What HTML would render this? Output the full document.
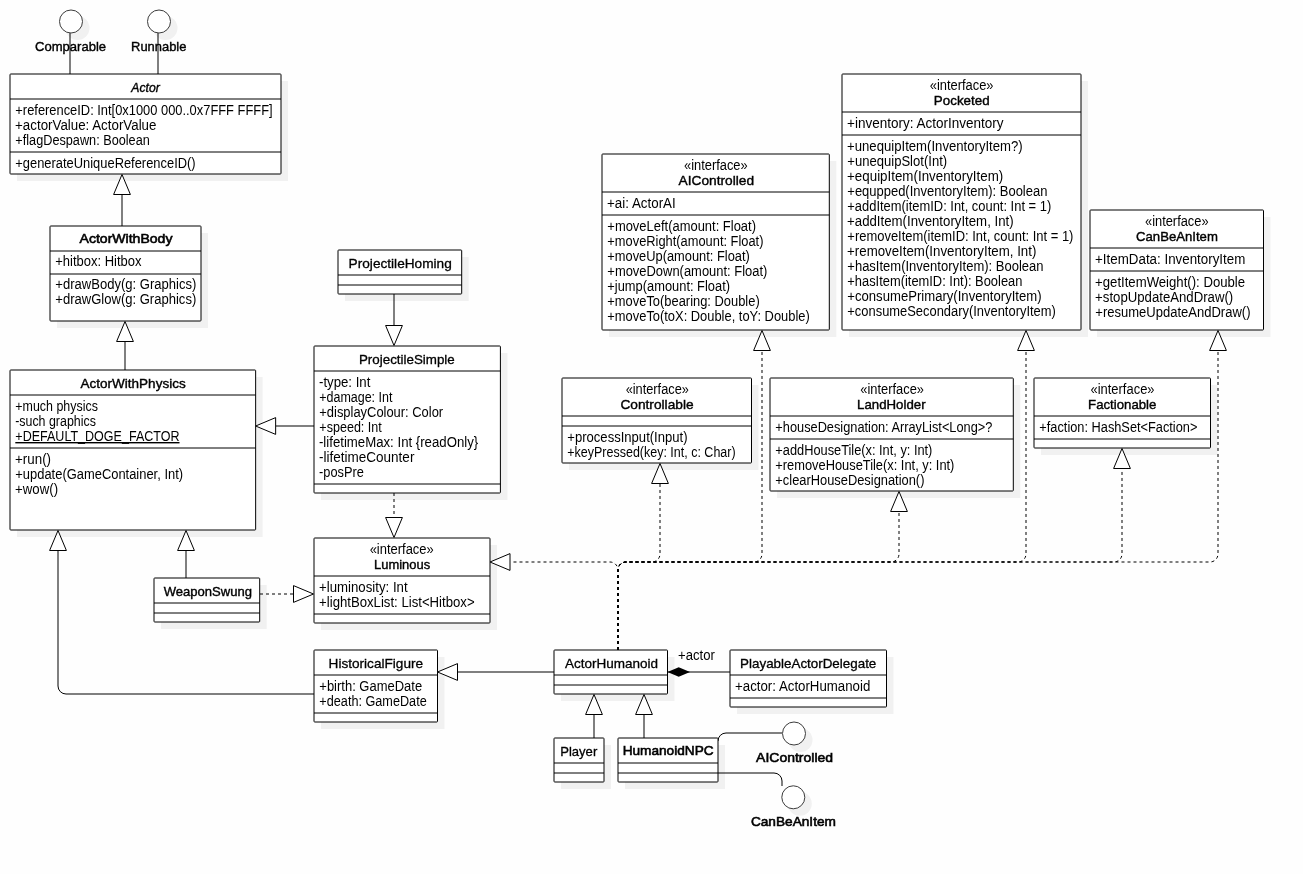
<!DOCTYPE html>
<html lang="en">
<head>
<meta charset="utf-8">
<title>Actor class diagram</title>
<style>
html,body{margin:0;padding:0;background:#fefefe;}
body{width:1303px;height:874px;overflow:hidden;}
svg{display:block;will-change:transform;}
svg text{font-family:"Liberation Sans",sans-serif;font-size:14px;fill:#000;stroke:none;}
svg text.md{stroke:#000;stroke-width:0.3px;font-size:13.5px;}
svg text.sb{stroke:#000;stroke-width:0.4px;font-size:13.5px;}
svg text.bd{stroke:#000;stroke-width:0.6px;font-size:13.5px;}
</style>
</head>
<body>
<svg width="1303" height="874" viewBox="0 0 1303 874">
<rect width="1303" height="874" fill="#fefefe"/>
<g id="shadows" fill="#f1f1f1">
<circle cx="77.5" cy="28" r="12"/>
<circle cx="165.5" cy="28" r="12"/>
<circle cx="800.5" cy="740" r="12"/>
<circle cx="799.8" cy="803.8" r="12"/>
<rect x="17" y="81" width="271" height="100"/>
<rect x="57" y="233" width="151" height="95"/>
<rect x="17" y="377" width="245.65" height="160"/>
<rect x="161" y="585" width="105.7" height="44"/>
<rect x="345" y="257" width="123.7" height="44"/>
<rect x="321" y="353" width="186.4" height="147"/>
<rect x="321" y="545" width="176" height="85"/>
<rect x="321" y="657" width="123.5" height="72"/>
<rect x="561" y="657" width="113.5" height="44"/>
<rect x="561" y="745" width="50" height="44"/>
<rect x="625" y="745" width="100" height="44"/>
<rect x="737" y="657" width="156.5" height="57"/>
<rect x="609" y="161" width="227.3" height="176"/>
<rect x="849" y="81" width="239" height="256"/>
<rect x="1097" y="217" width="173.5" height="120"/>
<rect x="569" y="385" width="189.5" height="85"/>
<rect x="777" y="385" width="243.3" height="113"/>
<rect x="1041" y="385" width="176.5" height="70"/>
</g>
<g id="edges" fill="none" stroke="#000" stroke-width="1">
<path d="M70 33V74"/>
<path d="M158 33V74"/>
<path d="M122 194V226"/>
<path d="M125 341V370"/>
<path d="M276 426H314"/>
<path d="M394 294V326"/>
<path d="M186 550V578"/>
<path d="M58 550V686A8 8 0 0 0 66 694H314"/>
<path d="M458 672H554"/>
<path d="M667 672H730"/>
<path d="M594 714V738"/>
<path d="M644 714V738"/>
<path d="M718 741A8 8 0 0 1 726 733H782"/>
<path d="M718 773H774A8 8 0 0 1 782 781V786"/>
<path d="M394 493V518" stroke-dasharray="3 3"/>
<path d="M260 594H294" stroke-dasharray="3 3"/>
<path d="M618 650V570A8 8 0 0 0 610 562H511" stroke-dasharray="3 3"/>
<path d="M618 650V570A8 8 0 0 1 626 562H652A8 8 0 0 0 660 554V484" stroke-dasharray="3 3"/>
<path d="M618 650V570A8 8 0 0 1 626 562H754A8 8 0 0 0 762 554V350" stroke-dasharray="3 3"/>
<path d="M618 650V570A8 8 0 0 1 626 562H891A8 8 0 0 0 899 554V512" stroke-dasharray="3 3"/>
<path d="M618 650V570A8 8 0 0 1 626 562H1018A8 8 0 0 0 1026 554V350" stroke-dasharray="3 3"/>
<path d="M618 650V570A8 8 0 0 1 626 562H1114A8 8 0 0 0 1122 554V468" stroke-dasharray="3 3"/>
<path d="M618 650V570A8 8 0 0 1 626 562H1210A8 8 0 0 0 1218 554V350" stroke-dasharray="3 3"/>
</g>
<g id="lollipops" fill="#fff" stroke="#3c3c3c" stroke-width="1">
<circle cx="71" cy="21.5" r="11.5"/>
<circle cx="159" cy="21.5" r="11.5"/>
<circle cx="794" cy="733.5" r="11.5"/>
<circle cx="793.3" cy="797.3" r="11.5"/>
</g>
<g id="lollipop-labels">
<text x="35.01" y="51" textLength="71.08" lengthAdjust="spacingAndGlyphs" class="sb">Comparable</text>
<text x="131.08" y="51" textLength="55.32" lengthAdjust="spacingAndGlyphs" class="sb">Runnable</text>
<text x="756.13" y="762" textLength="76.91" lengthAdjust="spacingAndGlyphs" class="bd">AIControlled</text>
<text x="750.91" y="826" textLength="85.01" lengthAdjust="spacingAndGlyphs" class="bd">CanBeAnItem</text>
</g>
<g id="classes" stroke="#000" stroke-width="1">
<rect x="10" y="74" width="271" height="100" rx="0.7" fill="#fff"/>
<path d="M10 99H281"/>
<path d="M10 152H281"/>
<rect x="50" y="226" width="151" height="95" rx="0.7" fill="#fff"/>
<path d="M50 251H201"/>
<path d="M50 274H201"/>
<rect x="10" y="370" width="245.65" height="160" rx="0.7" fill="#fff"/>
<path d="M10 395H255.65"/>
<path d="M10 448H255.65"/>
<rect x="154" y="578" width="105.7" height="44" rx="0.7" fill="#fff"/>
<path d="M154 603H259.7"/>
<path d="M154 613H259.7"/>
<rect x="338" y="250" width="123.7" height="44" rx="0.7" fill="#fff"/>
<path d="M338 275H461.7"/>
<path d="M338 285H461.7"/>
<rect x="314" y="346" width="186.4" height="147" rx="0.7" fill="#fff"/>
<path d="M314 371H500.4"/>
<path d="M314 484H500.4"/>
<rect x="314" y="538" width="176" height="85" rx="0.7" fill="#fff"/>
<path d="M314 576H490"/>
<path d="M314 614H490"/>
<rect x="314" y="650" width="123.5" height="72" rx="0.7" fill="#fff"/>
<path d="M314 675H437.5"/>
<path d="M314 713H437.5"/>
<rect x="554" y="650" width="113.5" height="44" rx="0.7" fill="#fff"/>
<path d="M554 675H667.5"/>
<path d="M554 685H667.5"/>
<rect x="554" y="738" width="50" height="44" rx="0.7" fill="#fff"/>
<path d="M554 763H604"/>
<path d="M554 773H604"/>
<rect x="618" y="738" width="100" height="44" rx="0.7" fill="#fff"/>
<path d="M618 763H718"/>
<path d="M618 773H718"/>
<rect x="730" y="650" width="156.5" height="57" rx="0.7" fill="#fff"/>
<path d="M730 675H886.5"/>
<path d="M730 698H886.5"/>
<rect x="602" y="154" width="227.3" height="176" rx="0.7" fill="#fff"/>
<path d="M602 192H829.3"/>
<path d="M602 215H829.3"/>
<rect x="842" y="74" width="239" height="256" rx="0.7" fill="#fff"/>
<path d="M842 112H1081"/>
<path d="M842 135H1081"/>
<rect x="1090" y="210" width="173.5" height="120" rx="0.7" fill="#fff"/>
<path d="M1090 248H1263.5"/>
<path d="M1090 271H1263.5"/>
<rect x="562" y="378" width="189.5" height="85" rx="0.7" fill="#fff"/>
<path d="M562 416H751.5"/>
<path d="M562 426H751.5"/>
<rect x="770" y="378" width="243.3" height="113" rx="0.7" fill="#fff"/>
<path d="M770 416H1013.3"/>
<path d="M770 439H1013.3"/>
<rect x="1034" y="378" width="176.5" height="70" rx="0.7" fill="#fff"/>
<path d="M1034 416H1210.5"/>
<path d="M1034 439H1210.5"/>
</g>
<g id="labels">
<text x="131.34" y="92" textLength="28.43" lengthAdjust="spacingAndGlyphs" class="sb" font-style="italic">Actor</text>
<text x="15.35" y="115" textLength="257.25" lengthAdjust="spacingAndGlyphs">+referenceID: Int[0x1000 000..0x7FFF FFFF]</text>
<text x="15.08" y="130" textLength="141.35" lengthAdjust="spacingAndGlyphs">+actorValue: ActorValue</text>
<text x="15.36" y="145" textLength="134.45" lengthAdjust="spacingAndGlyphs">+flagDespawn: Boolean</text>
<text x="15.33" y="168" textLength="180.29" lengthAdjust="spacingAndGlyphs">+generateUniqueReferenceID()</text>
<text x="79.52" y="243" textLength="92.93" lengthAdjust="spacingAndGlyphs" class="bd">ActorWithBody</text>
<text x="55.30" y="266" textLength="86.18" lengthAdjust="spacingAndGlyphs">+hitbox: Hitbox</text>
<text x="55.30" y="289" textLength="141.05" lengthAdjust="spacingAndGlyphs">+drawBody(g: Graphics)</text>
<text x="55.30" y="304" textLength="140.95" lengthAdjust="spacingAndGlyphs">+drawGlow(g: Graphics)</text>
<text x="80.58" y="388" textLength="105.07" lengthAdjust="spacingAndGlyphs" class="sb">ActorWithPhysics</text>
<text x="15.33" y="411" textLength="82.51" lengthAdjust="spacingAndGlyphs">+much physics</text>
<text x="15.14" y="426" textLength="80.77" lengthAdjust="spacingAndGlyphs">-such graphics</text>
<text x="15.32" y="441" textLength="164.21" lengthAdjust="spacingAndGlyphs" text-decoration="underline">+DEFAULT_DOGE_FACTOR</text>
<text x="15.04" y="464" textLength="36.02" lengthAdjust="spacingAndGlyphs">+run()</text>
<text x="15.33" y="479" textLength="167.73" lengthAdjust="spacingAndGlyphs">+update(GameContainer, Int)</text>
<text x="15.08" y="494" textLength="42.97" lengthAdjust="spacingAndGlyphs">+wow()</text>
<text x="163.70" y="596" textLength="88.27" lengthAdjust="spacingAndGlyphs" class="sb">WeaponSwung</text>
<text x="348.64" y="268" textLength="103.12" lengthAdjust="spacingAndGlyphs" class="md">ProjectileHoming</text>
<text x="358.96" y="364" textLength="95.80" lengthAdjust="spacingAndGlyphs" class="md">ProjectileSimple</text>
<text x="318.99" y="387" textLength="51.39" lengthAdjust="spacingAndGlyphs">-type: Int</text>
<text x="319.21" y="402" textLength="73.23" lengthAdjust="spacingAndGlyphs">+damage: Int</text>
<text x="319.32" y="417" textLength="123.84" lengthAdjust="spacingAndGlyphs">+displayColour: Color</text>
<text x="319.37" y="432" textLength="62.44" lengthAdjust="spacingAndGlyphs">+speed: Int</text>
<text x="318.98" y="447" textLength="159.23" lengthAdjust="spacingAndGlyphs">-lifetimeMax: Int {readOnly}</text>
<text x="319.05" y="462" textLength="95.34" lengthAdjust="spacingAndGlyphs">-lifetimeCounter</text>
<text x="319.09" y="477" textLength="44.77" lengthAdjust="spacingAndGlyphs">-posPre</text>
<text x="369.65" y="554" textLength="64.11" lengthAdjust="spacingAndGlyphs">«interface»</text>
<text x="374.10" y="569" textLength="56.07" lengthAdjust="spacingAndGlyphs" class="sb">Luminous</text>
<text x="319.09" y="592" textLength="88.49" lengthAdjust="spacingAndGlyphs">+luminosity: Int</text>
<text x="319.10" y="607" textLength="155.48" lengthAdjust="spacingAndGlyphs">+lightBoxList: List&lt;Hitbox&gt;</text>
<text x="328.57" y="668" textLength="94.51" lengthAdjust="spacingAndGlyphs" class="md">HistoricalFigure</text>
<text x="319.31" y="691" textLength="102.81" lengthAdjust="spacingAndGlyphs">+birth: GameDate</text>
<text x="319.37" y="706" textLength="107.35" lengthAdjust="spacingAndGlyphs">+death: GameDate</text>
<text x="564.93" y="668" textLength="93.15" lengthAdjust="spacingAndGlyphs" class="md">ActorHumanoid</text>
<text x="560.20" y="756" textLength="37.04" lengthAdjust="spacingAndGlyphs" class="md">Player</text>
<text x="622.65" y="755" textLength="90.99" lengthAdjust="spacingAndGlyphs" class="bd">HumanoidNPC</text>
<text x="740.10" y="668" textLength="136.21" lengthAdjust="spacingAndGlyphs" class="md">PlayableActorDelegate</text>
<text x="735.09" y="691" textLength="135.20" lengthAdjust="spacingAndGlyphs">+actor: ActorHumanoid</text>
<text x="683.97" y="170" textLength="63.71" lengthAdjust="spacingAndGlyphs">«interface»</text>
<text x="678.60" y="185" textLength="75.49" lengthAdjust="spacingAndGlyphs" class="sb">AIControlled</text>
<text x="607.06" y="208" textLength="68.64" lengthAdjust="spacingAndGlyphs">+ai: ActorAI</text>
<text x="607.32" y="231" textLength="148.65" lengthAdjust="spacingAndGlyphs">+moveLeft(amount: Float)</text>
<text x="607.34" y="246" textLength="156.16" lengthAdjust="spacingAndGlyphs">+moveRight(amount: Float)</text>
<text x="607.34" y="261" textLength="142.47" lengthAdjust="spacingAndGlyphs">+moveUp(amount: Float)</text>
<text x="607.33" y="276" textLength="160.01" lengthAdjust="spacingAndGlyphs">+moveDown(amount: Float)</text>
<text x="607.33" y="291" textLength="122.70" lengthAdjust="spacingAndGlyphs">+jump(amount: Float)</text>
<text x="607.33" y="306" textLength="152.35" lengthAdjust="spacingAndGlyphs">+moveTo(bearing: Double)</text>
<text x="607.33" y="321" textLength="202.41" lengthAdjust="spacingAndGlyphs">+moveTo(toX: Double, toY: Double)</text>
<text x="929.73" y="90" textLength="63.84" lengthAdjust="spacingAndGlyphs">«interface»</text>
<text x="933.85" y="105" textLength="55.77" lengthAdjust="spacingAndGlyphs" class="sb">Pocketed</text>
<text x="847.05" y="128" textLength="156.52" lengthAdjust="spacingAndGlyphs">+inventory: ActorInventory</text>
<text x="847.10" y="151" textLength="175.58" lengthAdjust="spacingAndGlyphs">+unequipItem(InventoryItem?)</text>
<text x="847.30" y="166" textLength="99.84" lengthAdjust="spacingAndGlyphs">+unequipSlot(Int)</text>
<text x="847.08" y="181" textLength="156.15" lengthAdjust="spacingAndGlyphs">+equipItem(InventoryItem)</text>
<text x="847.32" y="196" textLength="200.07" lengthAdjust="spacingAndGlyphs">+equpped(InventoryItem): Boolean</text>
<text x="847.33" y="211" textLength="203.86" lengthAdjust="spacingAndGlyphs">+addItem(itemID: Int, count: Int = 1)</text>
<text x="847.09" y="226" textLength="166.52" lengthAdjust="spacingAndGlyphs">+addItem(InventoryItem, Int)</text>
<text x="847.33" y="241" textLength="226.11" lengthAdjust="spacingAndGlyphs">+removeItem(itemID: Int, count: Int = 1)</text>
<text x="847.09" y="256" textLength="189.26" lengthAdjust="spacingAndGlyphs">+removeItem(InventoryItem, Int)</text>
<text x="847.31" y="271" textLength="196.28" lengthAdjust="spacingAndGlyphs">+hasItem(InventoryItem): Boolean</text>
<text x="847.34" y="286" textLength="175.05" lengthAdjust="spacingAndGlyphs">+hasItem(itemID: Int): Boolean</text>
<text x="847.30" y="301" textLength="194.27" lengthAdjust="spacingAndGlyphs">+consumePrimary(InventoryItem)</text>
<text x="847.33" y="316" textLength="208.48" lengthAdjust="spacingAndGlyphs">+consumeSecondary(InventoryItem)</text>
<text x="1145.01" y="226" textLength="63.61" lengthAdjust="spacingAndGlyphs">«interface»</text>
<text x="1136.09" y="241" textLength="81.80" lengthAdjust="spacingAndGlyphs" class="sb">CanBeAnItem</text>
<text x="1095.08" y="264" textLength="150.20" lengthAdjust="spacingAndGlyphs">+ItemData: InventoryItem</text>
<text x="1095.11" y="287" textLength="149.94" lengthAdjust="spacingAndGlyphs">+getItemWeight(): Double</text>
<text x="1095.10" y="302" textLength="138.15" lengthAdjust="spacingAndGlyphs">+stopUpdateAndDraw()</text>
<text x="1095.31" y="317" textLength="155.19" lengthAdjust="spacingAndGlyphs">+resumeUpdateAndDraw()</text>
<text x="625.65" y="394" textLength="63.23" lengthAdjust="spacingAndGlyphs">«interface»</text>
<text x="620.43" y="409" textLength="73.13" lengthAdjust="spacingAndGlyphs" class="sb">Controllable</text>
<text x="567.30" y="442" textLength="120.25" lengthAdjust="spacingAndGlyphs">+processInput(Input)</text>
<text x="567.32" y="457" textLength="168.29" lengthAdjust="spacingAndGlyphs">+keyPressed(key: Int, c: Char)</text>
<text x="860.33" y="394" textLength="63.69" lengthAdjust="spacingAndGlyphs">«interface»</text>
<text x="857.10" y="409" textLength="68.48" lengthAdjust="spacingAndGlyphs" class="sb">LandHolder</text>
<text x="775.36" y="432" textLength="216.97" lengthAdjust="spacingAndGlyphs">+houseDesignation: ArrayList&lt;Long&gt;?</text>
<text x="775.36" y="455" textLength="157.03" lengthAdjust="spacingAndGlyphs">+addHouseTile(x: Int, y: Int)</text>
<text x="775.34" y="470" textLength="179.07" lengthAdjust="spacingAndGlyphs">+removeHouseTile(x: Int, y: Int)</text>
<text x="775.33" y="485" textLength="149.12" lengthAdjust="spacingAndGlyphs">+clearHouseDesignation()</text>
<text x="1090.52" y="394" textLength="64.01" lengthAdjust="spacingAndGlyphs">«interface»</text>
<text x="1088.11" y="409" textLength="68.25" lengthAdjust="spacingAndGlyphs" class="sb">Factionable</text>
<text x="1039.36" y="432" textLength="157.99" lengthAdjust="spacingAndGlyphs">+faction: HashSet&lt;Faction&gt;</text>
<text x="678.10" y="660" textLength="36.78" lengthAdjust="spacingAndGlyphs">+actor</text>
</g>
<g id="heads" fill="#fff" stroke="#000" stroke-width="1" stroke-linejoin="round">
<polygon points="122,174.5 113.6,194.5 130.4,194.5"/>
<polygon points="125,321.5 116.6,341.5 133.4,341.5"/>
<polygon points="255.65,426 275.65,417.6 275.65,434.4"/>
<polygon points="394,345.5 385.6,325.5 402.4,325.5"/>
<polygon points="186,530.5 177.6,550.5 194.4,550.5"/>
<polygon points="58,530.5 49.6,550.5 66.4,550.5"/>
<polygon points="437.5,672 457.5,663.6 457.5,680.4"/>
<polygon points="594,694.5 585.6,714.5 602.4,714.5"/>
<polygon points="644,694.5 635.6,714.5 652.4,714.5"/>
<polygon points="394,537.5 385.6,517.5 402.4,517.5"/>
<polygon points="313.5,594 293.5,585.6 293.5,602.4"/>
<polygon points="490,562 510,553.6 510,570.4"/>
<polygon points="660,463.5 651.6,483.5 668.4,483.5"/>
<polygon points="762,330.5 753.6,350.5 770.4,350.5"/>
<polygon points="899,491.5 890.6,511.5 907.4,511.5"/>
<polygon points="1026,330.5 1017.6,350.5 1034.4,350.5"/>
<polygon points="1122,448.5 1113.6,468.5 1130.4,468.5"/>
<polygon points="1218,330.5 1209.6,350.5 1226.4,350.5"/>
</g>
<polygon points="667.5,672 678.7,667.2 690,672 678.7,676.8" fill="#000"/>
</svg>
</body>
</html>
